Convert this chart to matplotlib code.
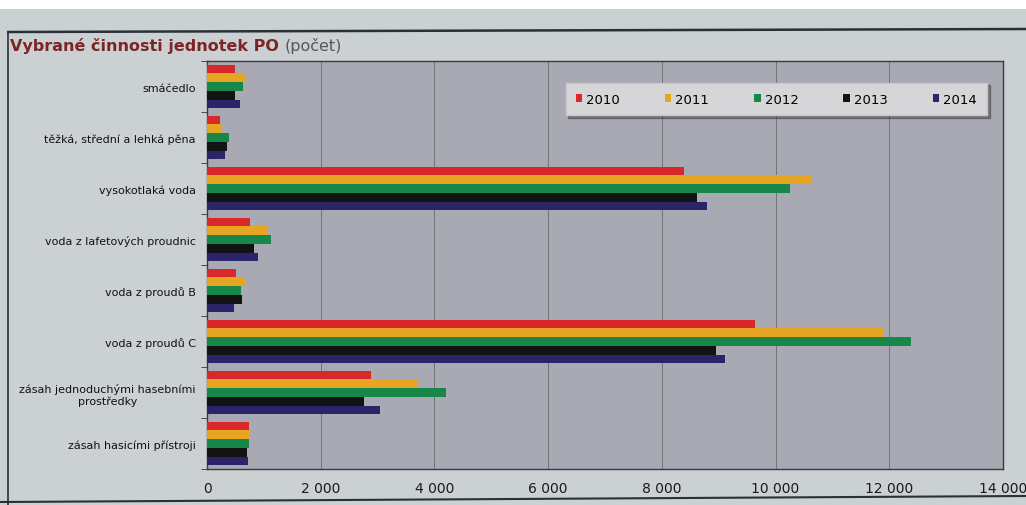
import matplotlib
matplotlib.use("Agg")
import matplotlib.pyplot as plt
import numpy as np
from matplotlib.ticker import FixedLocator, FuncFormatter
from matplotlib.patches import Rectangle
from matplotlib.lines import Line2D

# Categories, top to bottom
categories = [
    "smáčedlo",
    "těžká, střední a lehká pěna",
    "vysokotlaká voda",
    "voda z lafetových proudnic",
    "voda z proudů B",
    "voda z proudů C",
    "zásah jednoduchými hasebními\nprostředky",
    "zásah hasicími přístroji",
]

years = ["2010", "2011", "2012", "2013", "2014"]

v2010 = [500, 235, 8390, 764, 517, 9640, 2880, 735]
v2011 = [665, 253, 10625, 1064, 681, 11910, 3685, 735]
v2012 = [630, 395, 10250, 1117, 605, 12390, 4212, 730]
v2013 = [500, 350, 8625, 822, 610, 8960, 2755, 712]
v2014 = [577, 310, 8800, 905, 476, 9110, 3041, 715]

series = [v2010, v2011, v2012, v2013, v2014]
colors = ["#d8282a", "#e6a623", "#17874a", "#131313", "#2b2468"]

x_ticks = [0, 2000, 4000, 6000, 8000, 10000, 12000, 14000]

fig = plt.figure(figsize=(10.26, 5.06), dpi=100)
fig.patch.set_facecolor("#cbd0d3")

# white strip along the top edge and frame lines of the panel
fig.add_artist(Rectangle((0, 1 - 10 / 506), 1, 10 / 506, transform=fig.transFigure,
                         facecolor="white", edgecolor="none", zorder=0))
fig.add_artist(Line2D([0.008, 1.0], [1 - 33 / 506, 1 - 30 / 506], transform=fig.transFigure,
                      color="#2a3038", lw=1.8))
fig.add_artist(Line2D([0.008, 0.008], [1 - 33 / 506, 0.0], transform=fig.transFigure,
                      color="#2a3038", lw=1.2))
fig.add_artist(Line2D([0.0, 1.0], [1 - 503 / 506, 1 - 497 / 506], transform=fig.transFigure,
                      color="#2a3038", lw=1.5))

ax = fig.add_axes([207 / 1026, 1 - 470 / 506, (1003 - 207) / 1026, (470 - 62) / 506])
ax.set_facecolor("#a9a9b3")

n = len(categories)
k = len(series)
bar_h = 0.172
y = np.arange(n)
for j, (vals, col, yr) in enumerate(zip(series, colors, years)):
    offs = (j - (k - 1) / 2) * bar_h
    ax.barh(y + offs, vals, height=bar_h, color=col, label=yr, zorder=3, linewidth=0)

ax.set_ylim(n - 0.5, -0.5)
ax.set_xlim(0, 14000)

ax.xaxis.set_major_locator(FixedLocator(x_ticks))
ax.xaxis.set_major_formatter(FuncFormatter(lambda v, p: f"{int(v):,}".replace(",", " ")))
ax.grid(axis="x", color="#6a6a72", lw=0.6, zorder=1)
ax.tick_params(axis="x", length=0, pad=9, labelsize=10, labelcolor="#1a1a1a")

ax.set_yticks(y)
ax.set_yticklabels(categories, fontsize=8, color="#111111", ha="right", multialignment="center")
ax.set_yticks(np.arange(n + 1) - 0.5, minor=True)
ax.tick_params(axis="y", which="major", length=0, pad=8)
ax.tick_params(axis="y", which="minor", length=4, direction="out", color="#333333")

for s in ax.spines.values():
    s.set_color("#3a3a42")
    s.set_linewidth(1.0)

leg = ax.legend(loc="upper right", bbox_to_anchor=(0.988, 0.963), ncol=5, frameon=True,
                fontsize=9.5, handlelength=0.5, handleheight=0.5, handletextpad=0.3,
                columnspacing=3.4, borderpad=0.75, shadow=True, fancybox=False)
leg.get_frame().set_facecolor("#d6d6d8")
leg.get_frame().set_edgecolor("#c8c8cc")
leg.get_frame().set_alpha(1)

title = fig.text(10 / 1026, 1 - 46 / 506, "Vybrané činnosti jednotek PO", fontsize=11.5,
                 fontweight="bold", color="#7d2424", va="center", ha="left")
fig.canvas.draw()
tb = title.get_window_extent(renderer=fig.canvas.get_renderer())
fig.text((tb.x1 + 6) / 1026, 1 - 46 / 506, "(počet)", fontsize=11.5, color="#55585c",
         va="center", ha="left")

fig.savefig("out.png", dpi=100, facecolor=fig.get_facecolor())
